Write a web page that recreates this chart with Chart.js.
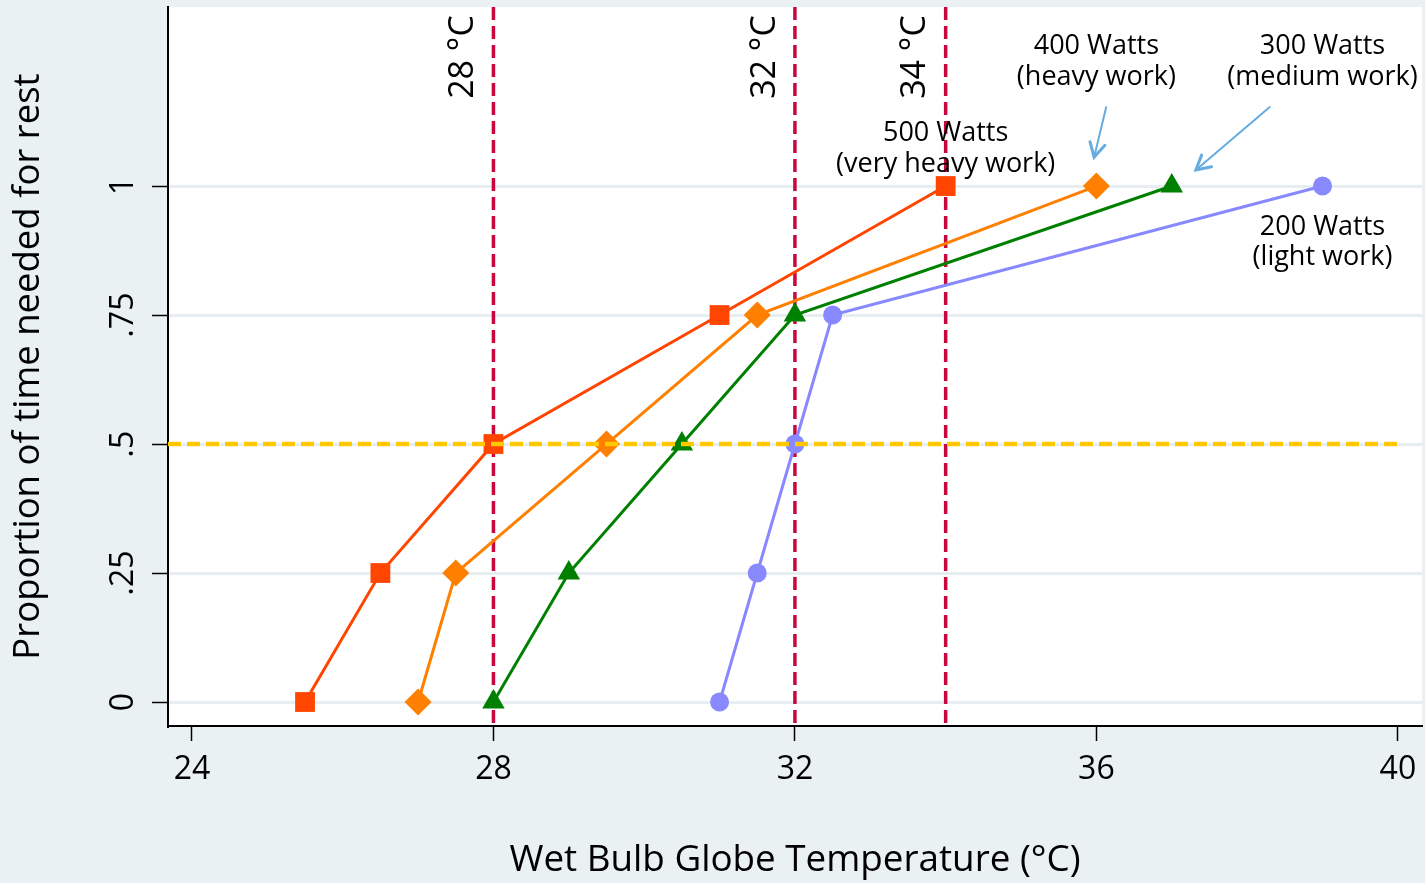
<!DOCTYPE html>
<html>
<head>
<meta charset="utf-8">
<script src="https://cdn.jsdelivr.net/npm/chart.js@4.4.1/dist/chart.umd.min.js"></script>
<style>
  html, body { margin: 0; padding: 0; background: #eaf1f3; }
  #wrap { width: 1425px; height: 883px; }
</style>
</head>
<body>
<div id="wrap"><canvas id="restChart" width="1425" height="883"></canvas></div>
<script>
// proportion of time needed for rest (y) vs WBGT (x), one list per work rate
const restShare = [0, 0.25, 0.5, 0.75, 1];
const wbgt500 = [25.5, 26.5, 28, 31, 34];
const wbgt400 = [27, 27.5, 29.5, 31.5, 36];
const wbgt300 = [28, 29, 30.5, 32, 37];
const wbgt200 = [31, 31.5, 32, 32.5, 39];

const xTicks = [24, 28, 32, 36, 40];
const yTicks = [0, 0.25, 0.5, 0.75, 1];
const yTickLabels = ['0', '.25', '.5', '.75', '1'];

const refTemps = [28, 32, 34];
const refLabels = ['28 °C', '32 °C', '34 °C'];
const halfRest = 0.5;

const workLabels = [
    ['500 Watts', '(very heavy work)'],
    ['400 Watts', '(heavy work)'],
    ['300 Watts', '(medium work)'],
    ['200 Watts', '(light work)']
];

const FONT = '"Open Sans", Lato, sans-serif';

function pts(xs) {
    return xs.map((x, i) => ({ x: x, y: restShare[i] }));
}

function series(label, xs, color, style, radius) {
    return {
        label: label,
        data: pts(xs),
        borderColor: color,
        backgroundColor: color,
        borderWidth: 3,
        pointStyle: style,
        pointRadius: radius,
        pointHoverRadius: radius,
        pointBorderWidth: 0,
        showLine: true,
        tension: 0
    };
}

function noPad(s) {
    s.paddingLeft = 0;
    s.paddingRight = 0;
    s.paddingTop = 0;
    s.paddingBottom = 0;
}

// background, reference lines, rotated labels and notes
const extras = {
    id: 'extras',
    beforeDraw(chart) {
        const { ctx, chartArea: a } = chart;
        ctx.save();
        ctx.fillStyle = '#eaf1f3';
        ctx.fillRect(0, 0, chart.width, chart.height);
        ctx.fillStyle = '#ffffff';
        ctx.fillRect(a.left, a.top, a.right - a.left, a.bottom - a.top);
        ctx.restore();
    },
    beforeDatasetsDraw(chart) {
        // temperature thresholds sit under the series
        const { ctx, chartArea: a, scales: { x } } = chart;
        ctx.save();
        ctx.strokeStyle = '#c8083c';
        ctx.lineWidth = 3.5;
        ctx.setLineDash([13, 6]);
        refTemps.forEach(t => {
            const px = x.getPixelForValue(t);
            ctx.beginPath();
            ctx.moveTo(px, a.top);
            ctx.lineTo(px, a.bottom);
            ctx.stroke();
        });
        ctx.restore();
    },
    afterDatasetsDraw(chart) {
        // 50% rest line goes over the markers
        const { ctx, chartArea: a, scales: { x, y } } = chart;
        ctx.save();
        ctx.strokeStyle = '#ffc800';
        ctx.lineWidth = 4.5;
        ctx.setLineDash([13, 6]);
        const yh = y.getPixelForValue(halfRest);
        ctx.beginPath();
        ctx.moveTo(a.left, yh);
        ctx.lineTo(x.getPixelForValue(40), yh);
        ctx.stroke();
        ctx.restore();
    },
    afterDraw(chart) {
        const { ctx, scales: { x, y } } = chart;
        ctx.save();
        ctx.fillStyle = '#000';
        ctx.textAlign = 'center';
        ctx.textBaseline = 'middle';

        // y tick labels, rotated
        ctx.font = '32px ' + FONT;
        yTicks.forEach((v, i) => {
            ctx.save();
            ctx.translate(124, y.getPixelForValue(v));
            ctx.rotate(-Math.PI / 2);
            ctx.fillText(yTickLabels[i], 0, 0);
            ctx.restore();
        });

        // threshold labels
        ctx.font = '34px ' + FONT;
        refTemps.forEach((t, i) => {
            ctx.save();
            ctx.translate(x.getPixelForValue(t) - 30, 57);
            ctx.rotate(-Math.PI / 2);
            ctx.fillText(refLabels[i], 0, 0);
            ctx.restore();
        });

        // work-rate notes
        ctx.font = '27px ' + FONT;
        const notePos = [[34, 1.103, 1.043], [36, 1.271, 1.211], [39, 1.271, 1.211], [39, 0.92, 0.862]];
        workLabels.forEach((lines, i) => {
            const p = notePos[i];
            ctx.fillText(lines[0], x.getPixelForValue(p[0]), y.getPixelForValue(p[1]));
            ctx.fillText(lines[1], x.getPixelForValue(p[0]), y.getPixelForValue(p[2]));
        });

        // arrows
        ctx.strokeStyle = '#66ace0';
        ctx.lineCap = 'round';
        const arrows = [[36.13, 1.153, 35.97, 1.056], [38.30, 1.153, 37.32, 1.031]];
        arrows.forEach(ar => {
            const x0 = x.getPixelForValue(ar[0]), y0 = y.getPixelForValue(ar[1]);
            const x1 = x.getPixelForValue(ar[2]), y1 = y.getPixelForValue(ar[3]);
            const ang = Math.atan2(y1 - y0, x1 - x0);
            ctx.lineWidth = 2;
            ctx.beginPath();
            ctx.moveTo(x0, y0);
            ctx.lineTo(x1, y1);
            ctx.stroke();
            ctx.lineWidth = 3;
            ctx.beginPath();
            ctx.moveTo(x1 - 16 * Math.cos(ang - 0.5), y1 - 16 * Math.sin(ang - 0.5));
            ctx.lineTo(x1, y1);
            ctx.lineTo(x1 - 16 * Math.cos(ang + 0.5), y1 - 16 * Math.sin(ang + 0.5));
            ctx.stroke();
        });

        ctx.restore();
    }
};

const ctx = document.getElementById('restChart');

new Chart(ctx, {
    type: 'scatter',
    data: {
        datasets: [
            series('200 Watts', wbgt200, '#8888ff', 'circle', 9.5),
            series('300 Watts', wbgt300, '#008000', 'triangle', 13),
            series('400 Watts', wbgt400, '#ff8000', 'rectRot', 13.5),
            series('500 Watts', wbgt500, '#ff4500', 'rect', 14)
        ]
    },
    options: {
        responsive: false,
        animation: false,
        layout: { autoPadding: false, padding: { left: 0, right: 3, top: 7, bottom: 0 } },
        plugins: {
            legend: { display: false },
            tooltip: { enabled: false }
        },
        scales: {
            x: {
                type: 'linear',
                min: 23.682,
                max: 40.32,
                afterBuildTicks: s => { s.ticks = xTicks.map(v => ({ value: v })); },
                afterFit: s => { s.height = 157; noPad(s); },
                border: { display: true, color: '#000', width: 2 },
                grid: { drawOnChartArea: false, color: '#000', tickColor: '#000', tickLength: 15, tickWidth: 1.5 },
                ticks: {
                    color: '#000',
                    font: { family: FONT, size: 32 },
                    padding: 10,
                    maxRotation: 0,
                    callback: v => String(v)
                },
                title: {
                    display: true,
                    text: 'Wet Bulb Globe Temperature (°C)',
                    color: '#000',
                    font: { family: FONT, size: 36.8 },
                    padding: { top: 0, bottom: 0 }
                }
            },
            y: {
                type: 'linear',
                min: -0.0465,
                max: 1.347,
                afterBuildTicks: s => { s.ticks = yTicks.map(v => ({ value: v })); },
                afterFit: s => { s.width = 168; noPad(s); },
                border: { display: true, color: '#000', width: 2 },
                grid: { color: '#e6eef1', lineWidth: 3, tickColor: '#000', tickLength: 16, tickWidth: 1.5 },
                ticks: { display: false },
                title: {
                    display: true,
                    text: 'Proportion of time needed for rest',
                    color: '#000',
                    font: { family: FONT, size: 36.5 },
                    padding: { top: 7, bottom: 0 }
                }
            }
        }
    },
    plugins: [extras]
});
</script>
</body>
</html>
